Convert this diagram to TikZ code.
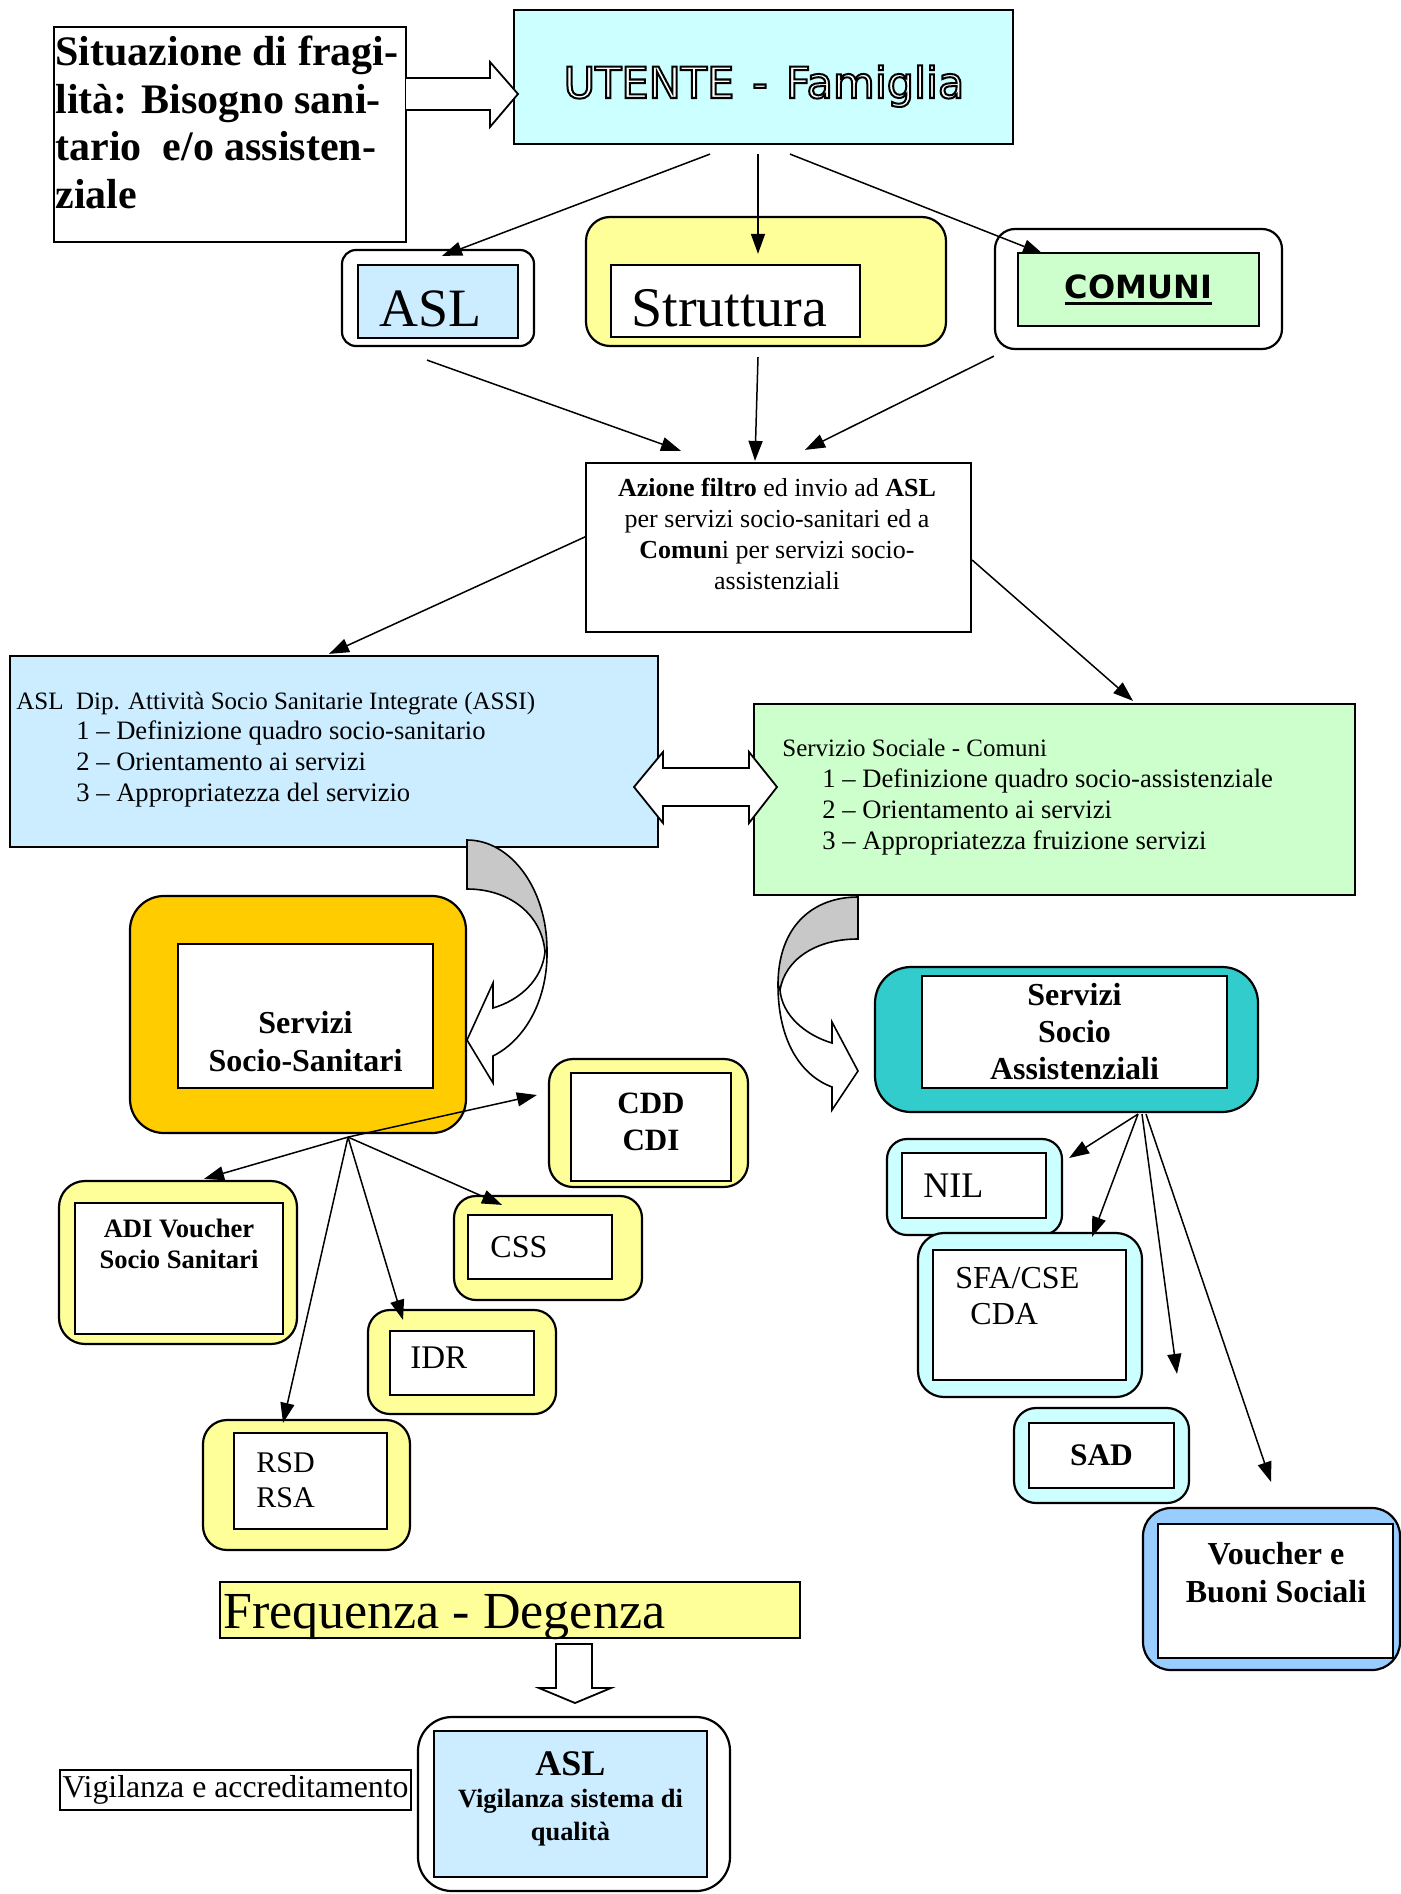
\documentclass[tikz,border=0pt]{standalone}
\usepackage{fontspec}
\usepackage{graphicx}
\setmainfont{Liberation Serif}
\newfontfamily\dejavu{DejaVu Sans}
\usetikzlibrary{arrows.meta,fit,calc}
\definecolor{cyanL}{HTML}{CCFFFF}
\definecolor{blueL}{HTML}{CCECFF}
\definecolor{yelL}{HTML}{FFFF99}
\definecolor{grnL}{HTML}{CCFFCC}
\definecolor{orng}{HTML}{FFCC00}
\definecolor{tealC}{HTML}{33CCCC}
\definecolor{blueM}{HTML}{99CCFF}
\definecolor{grayC}{HTML}{C8C8C8}
\newcommand{\fsz}[2]{\fontsize{#1}{#2}\selectfont}
\newcommand{\mlines}[2]{\begin{tabular}[t]{@{}#1@{}}#2\end{tabular}}
\newcommand{\outl}[1]{\special{pdf:literal direct 2 Tr 1.0 w 0 0 0 RG 1 1 1 rg}#1\special{pdf:literal direct 0 Tr 0 0 0 rg 0 0 0 RG}}
\newcommand{\thickul}[1]{\setbox0=\hbox{#1}\rlap{\raisebox{-3.2pt}{\rule{\wd0}{1.6pt}}}\box0}
\begin{document}
\begin{tikzpicture}[x=0.5pt,y=-0.5pt,
  sq/.style={draw, line width=1.1pt, inner sep=0pt},
  rb/.style={draw, line width=1.1pt, inner sep=0pt, rounded corners=#1},
  rb/.default=10pt,
  arr/.style={-{Triangle[length=10pt,width=7pt]}, line width=0.75pt},
  tx/.style={inner sep=0pt, anchor=base west},
  txc/.style={inner sep=0pt, anchor=base},
  block/.style={draw, line width=0.9pt, fill=white, line join=miter},
]
\fill[white] (0,0) rectangle (1401,1894);
\useasboundingbox (0,0) rectangle (1401,1894);

% ---------- top row ----------
\node[sq, fill=white, fit={(54,27)(406,242)}] (sit) {};
\node[tx, font=\bfseries\fsz{21}{23.75}] (sitT) at (55,66)
  {\mlines{l}{Situazione di fragi-\\lità: Bisogno sani-\\tario\ \ e/o assisten-\\ziale}};
\node[sq, fill=cyanL, fit={(514,10)(1013,144)}] (utente) {};
\node[txc, font=\dejavu\fsz{21.5}{24}] (utT) at (764,98) {\outl{UTENTE\hspace{9pt}-\hspace{9pt}Famiglia}};

\draw[block] (406,78) -- (490,78) -- (490,62) -- (518,94) -- (490,127) -- (490,110) -- (406,110);

\node[rb=7pt, fill=white, fit={(342,250)(534,346)}] (aslO) {};
\node[sq, fill=blueL, fit={(358,265)(518,338)}] (aslI) {};
\node[tx, font=\fsz{27}{30}] (aslT) at (379,326) {ASL};

\node[rb=12pt, fill=yelL, fit={(586,217)(946,346)}] (strO) {};
\node[sq, fill=white, fit={(611,265)(860,337)}] (strI) {};
\node[tx, font=\fsz{28}{30}] (strT) at (631,326) {Struttura};

\node[rb=10pt, fill=white, fit={(995,229)(1282,349)}] (comO) {};
\node[sq, fill=grnL, fit={(1018,253)(1259,326)}] (comI) {};
\node[txc, font=\dejavu\bfseries\fsz{16}{18}] (comT) at (1138.5,299) {\thickul{COMUNI}};

\draw[arr] ($(utente.south)+(-53.5,9)$) -- ($(aslO.north)+(4,7)$);
\draw[arr] ($(utente.south)+(-5.5,9)$) -- ($(strO.north)+(-8,38)$);
\draw[arr] ($(utente.south)+(26.5,9)$) -- ($(comI.north west)+(26,2)$);

% ---------- filter box ----------
\node[sq, fill=white, fit={(586,463)(971,632)}] (az) {};
\node[txc, font=\fsz{13}{15.5}] (azT) at (777,496)
  {\mlines{c}{\textbf{Azione filtro} ed invio ad \textbf{ASL}\\per servizi socio-sanitari ed a\\\textbf{Comun}i per servizi socio-\\assistenziali}};

\draw[arr] ($(aslO.south)+(-11,13)$) -- ($(az.north)+(-97.5,-11)$);
\draw[arr] ($(strO.south)+(-8,10)$) -- ($(az.north)+(-23.5,-1)$);
\draw[arr] ($(comO.south west)+(0,6)$) -- ($(az.north)+(26.5,-12)$);

% ---------- department boxes ----------
\node[sq, fill=blueL, fit={(10,656)(658,847)}] (assi) {};
\node[tx, font=\fsz{13.3}{15.4}] (assiT) at (16,709)
  {\mlines{l}{{\fsz{12.5}{15}ASL\ \ Dip. Attività Socio Sanitarie Integrate (ASSI)}\\
  \hspace{30pt}1 – Definizione quadro socio-sanitario\\
  \hspace{30pt}2 – Orientamento ai servizi\\
  \hspace{30pt}3 – Appropriatezza del servizio}};

\node[sq, fill=grnL, fit={(754,704)(1355,895)}] (grn) {};
\node[tx, font=\fsz{13.3}{15.5}] (grnT) at (782,756)
  {\mlines{l}{{\fsz{12.5}{15}Servizio Sociale - Comuni}\\
  \hspace{20pt}1 – Definizione quadro socio-assistenziale\\
  \hspace{20pt}2 – Orientamento ai servizi\\
  \hspace{20pt}3 – Appropriatezza fruizione servizi}};

\draw[arr] ($(az.west)+(1,-11)$) -- ($(assi.north)+(-5,-1)$);
\draw[arr] ($(az.east)+(0,12.5)$) -- ($(grn.north)+(78.5,-2)$);

\draw[block] (634,787) -- (663,752) -- (663,768) -- (749,768) -- (749,752) -- (777,787)
  -- (749,823) -- (749,806) -- (663,806) -- (663,823) -- cycle;

% ---------- socio-sanitari side ----------
\node[rb=17pt, fill=orng, fit={(130,896)(466,1133)}] (ssO) {};
\node[sq, fill=white, fit={(178,944)(433,1088)}] (ssI) {};
\node[txc, font=\bfseries\fsz{16}{19}] (ssT) at (305.5,1033) {\mlines{c}{Servizi\\Socio-Sanitari}};

\node[rb=12pt, fill=yelL, fit={(549,1059)(748,1187)}] (cddO) {};
\node[sq, fill=white, fit={(571,1073)(731,1181)}] (cddI) {};
\node[txc, font=\bfseries\fsz{15.5}{18.5}] (cddT) at (651,1113) {\mlines{c}{CDD\\CDI}};

\node[rb=13pt, fill=yelL, fit={(59,1181)(297,1344)}] (adiO) {};
\node[sq, fill=white, fit={(75,1203)(283,1334)}] (adiI) {};
\node[txc, font=\bfseries\fsz{13.3}{15.5}] (adiT) at (179,1237) {\mlines{c}{ADI Voucher\\Socio Sanitari}};

\node[rb=11pt, fill=yelL, fit={(454,1196)(642,1300)}] (cssO) {};
\node[sq, fill=white, fit={(468,1215)(612,1279)}] (cssI) {};
\node[tx, font=\fsz{16}{18}] (cssT) at (490,1257) {CSS};

\node[rb=11pt, fill=yelL, fit={(368,1310)(556,1414)}] (idrO) {};
\node[sq, fill=white, fit={(390,1331)(534,1395)}] (idrI) {};
\node[tx, font=\fsz{16.5}{18}] (idrT) at (410,1368) {IDR};

\node[rb=12pt, fill=yelL, fit={(203,1420)(410,1550)}] (rsdO) {};
\node[sq, fill=white, fit={(234,1433)(387,1529)}] (rsdI) {};
\node[tx, font=\fsz{15}{17.5}] (rsdT) at (256,1472) {\mlines{l}{RSD\\RSA}};

\coordinate (ssf) at ($(ssO.south)+(50,3)$);
\draw[arr] (ssf) -- ($(cddO.west)+(-11,-28)$);
\draw[arr] (ssf) -- ($(adiO.north)+(26,-1)$);
\draw[arr] (ssf) -- ($(cssO.north)+(-46,10)$);
\draw[arr] (ssf) -- ($(idrO.north)+(-59,11)$);
\draw[arr] (ssf) -- ($(rsdO.north)+(-23.5,4)$);

% curved arrow left
\draw[line width=0.8pt, fill=grayC] (467,840) .. controls (511,840) and (547,889) .. (547,950)
  -- (545,952) .. controls (542,915) and (510,889) .. (467,889) -- cycle;
\draw[line width=0.8pt, fill=white] (547,950) .. controls (548,1000) and (525,1040) .. (493,1056)
  -- (493,1083) -- (467,1040) -- (493,983) -- (493,1008)
  .. controls (520,1000) and (542,980) .. (545,952) -- cycle;

% ---------- socio-assistenziali side ----------
\node[rb=18pt, fill=tealC, fit={(875,967)(1258,1112)}] (ssaO) {};
\node[sq, fill=white, fit={(922,976)(1227,1088)}] (ssaI) {};
\node[txc, font=\bfseries\fsz{16}{18.5}] (ssaT) at (1074.5,1005) {\mlines{c}{Servizi\\Socio\\Assistenziali}};

\node[rb=10pt, fill=cyanL, fit={(887,1139)(1062,1235)}] (nilO) {};
\node[sq, fill=white, fit={(902,1153)(1046,1218)}] (nilI) {};
\node[tx, font=\fsz{18}{20}] (nilT) at (923,1197) {NIL};

\node[rb=13pt, fill=cyanL, fit={(918,1233)(1142,1397)}] (sfaO) {};
\node[sq, fill=white, fit={(933,1250)(1126,1380)}] (sfaI) {};
\node[tx, font=\fsz{16}{18}] (sfaT) at (955,1288) {\mlines{l}{SFA/CSE\\\hspace{7.5pt}CDA}};

\node[rb=11pt, fill=cyanL, fit={(1014,1408)(1189,1503)}] (sadO) {};
\node[sq, fill=white, fit={(1029,1423)(1174,1488)}] (sadI) {};
\node[txc, font=\bfseries\fsz{15.7}{18}] (sadT) at (1101.5,1465) {SAD};

\node[rb=14pt, fill=blueM, fit={(1143,1508)(1400,1670)}] (vouO) {};
\node[sq, fill=white, fit={(1158,1524)(1393,1658)}] (vouI) {};
\node[txc, font=\bfseries\fsz{16}{19}] (vouT) at (1276,1564) {\mlines{c}{Voucher e\\Buoni Sociali}};

\coordinate (ssaf) at ($(ssaO.south)+(71.5,1)$);
\draw[arr] (ssaf) -- ($(nilO.east)+(6,-29)$);
\draw[arr] (ssaf) -- ($(sfaO.north)+(62,5)$);
\draw[arr] ($(ssaf)+(4,0)$) -- ($(sadO.north)+(75.5,-33)$);
\draw[arr] ($(ssaf)+(8,0)$) -- ($(vouO.north)+(-0.5,-25)$);

% curved arrow right
\draw[line width=0.8pt, fill=grayC] (858,897) .. controls (814,897) and (778,925) .. (778,985)
  -- (780,990) .. controls (785,960) and (815,939) .. (858,939) -- cycle;
\draw[line width=0.8pt, fill=white] (778,985) .. controls (778,1040) and (800,1075) .. (832,1087)
  -- (832,1110) -- (858,1071) -- (832,1022) -- (832,1043)
  .. controls (805,1035) and (782,1015) .. (780,990) -- cycle;

% ---------- bottom ----------
\node[sq, fill=yelL, fit={(220,1582)(800,1638)}] (freq) {};
\node[tx, font=\fsz{26}{30}] (freqT) at (223,1628) {Frequenza - Degenza};

\draw[block] (556,1644) -- (592,1644) -- (592,1688) -- (611,1688) -- (575,1703)
  -- (539,1688) -- (556,1688) -- cycle;

\node[rb=17pt, fill=white, fit={(418,1717)(730,1891)}] (blO) {};
\node[sq, fill=blueL, fit={(434,1731)(707,1877)}] (blI) {};
\node[txc, font=\bfseries\fsz{13.2}{16.25}] (blT) at (570.5,1775)
  {\mlines{c}{{\fsz{18}{20}ASL}\\Vigilanza sistema di\\qualità}};

\node[sq, anchor=north west, minimum width=175.5pt, minimum height=20pt,
  font=\fsz{15.9}{18}] (vig) at (59,1769) {Vigilanza e accreditamento};
\end{tikzpicture}
\end{document}
